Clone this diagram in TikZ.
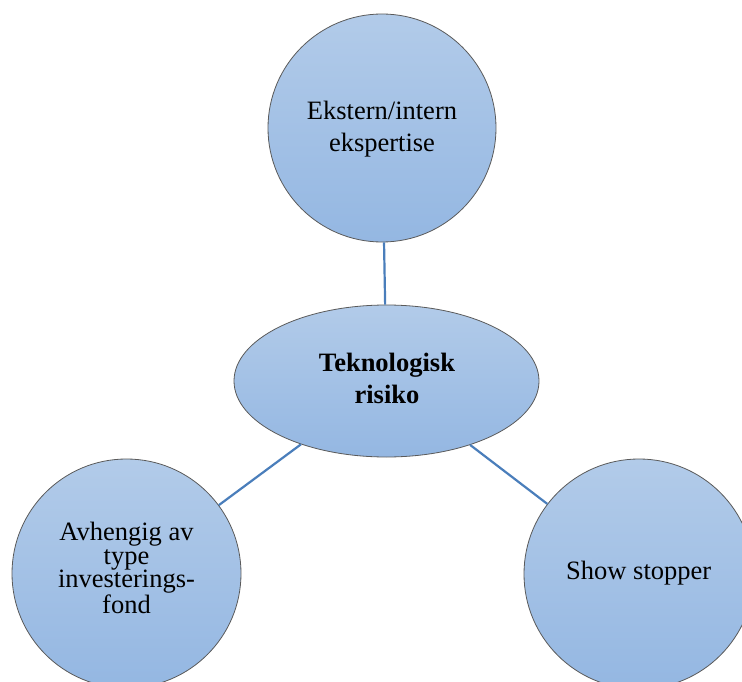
\documentclass[tikz,border=0pt]{standalone}
\usepackage{fontspec}
\setmainfont{Liberation Serif}
\usetikzlibrary{shapes.geometric}
\definecolor{bubbletop}{RGB}{178,203,233}
\definecolor{bubblebot}{RGB}{148,183,226}
\definecolor{bubbleline}{RGB}{90,90,90}
\definecolor{linkblue}{RGB}{74,126,187}
\tikzset{
  bubble/.style={circle, inner sep=0pt, draw=bubbleline, line width=0.8pt,
    top color=bubbletop, bottom color=bubblebot},
  hub/.style={ellipse, inner sep=0pt, draw=bubbleline, line width=0.8pt,
    top color=bubbletop, bottom color=bubblebot,
    minimum width=305pt, minimum height=152pt},
  label/.style={anchor=base, align=center, inner sep=0pt,
    font=\fontsize{26.5pt}{31.7pt}\selectfont},
  link/.style={draw=linkblue, line width=2.2pt}
}
\begin{document}
\begin{tikzpicture}[x=1pt, y=-1pt]
  \clip (0,0) rectangle (742,682);
  \fill[white] (0,0) rectangle (742,682);

  % outer bubbles and central hub
  \node[bubble, minimum size=228pt] (top) at (382,128) {};
  \node[hub] (hub) at (386.5,381) {};
  \node[bubble, minimum size=229pt] (left) at (126.5,573.5) {};
  \node[bubble, minimum size=230pt] (right) at (639,574) {};

  % spokes
  \draw[link] (hub) -- (top);
  \draw[link] (hub) -- (left);
  \draw[link] (hub) -- (right);

  % texts (placed by the baseline of their last line)
  \node[label] (ttop) at (382,151.7) {Ekstern/intern\\ekspertise};
  \node[label, font=\bfseries\fontsize{26.5pt}{31.7pt}\selectfont] (thub) at (387,403.3) {Teknologisk\\risiko};
  \node[label, font=\fontsize{26.5pt}{23.9pt}\selectfont] (tleft) at (126.5,613.3) {Avhengig av\\type\\investerings-\\fond};
  \node[label] (tright) at (638.7,579) {Show stopper};
\end{tikzpicture}
\end{document}
